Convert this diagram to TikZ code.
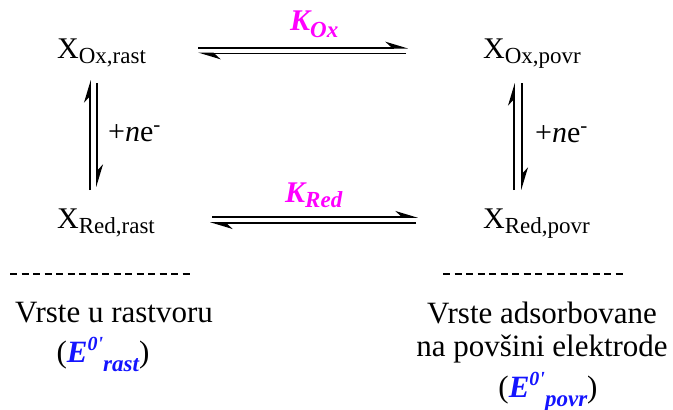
\documentclass[tikz,border=0pt]{standalone}
\usepackage{fontspec}
\setmainfont{Liberation Serif}
\usetikzlibrary{arrows.meta, calc, positioning}
\definecolor{kmag}{HTML}{FF00FF}
\definecolor{eblue}{HTML}{1414FF}
\newcommand{\lowtxt}[2][-5pt]{\raisebox{#1}{\fontsize{23}{23}\selectfont #2}}
\newcommand{\eform}[1]{\textcolor{eblue}{\bfseries\itshape E\raisebox{12pt}{\fontsize{20}{20}\selectfont 0\textquotesingle}\raisebox{-9pt}{\fontsize{23}{23}\selectfont #1}}}

\begin{document}
\begin{tikzpicture}[
    x=1pt, y=-1pt,
    species/.style={inner sep=0pt, anchor=base west, font=\fontsize{30}{34}\selectfont},
    caption/.style={inner sep=0pt, anchor=base, font=\fontsize{31}{34}\selectfont},
    klabel/.style={inner sep=0pt, anchor=base west, text=kmag, font=\fontsize{30}{34}\selectfont\bfseries\itshape},
    harp/.style={-{Stealth[harpoon, length=20pt, width=12pt]}, line width=1.6pt},
    sep/.style={line width=1.5pt, dash pattern=on 7pt off 4.5pt}
]
\useasboundingbox (0,0) rectangle (673,410);

% Species
\node[species] (oxr) at (57,58) {X\lowtxt{Ox,rast}};
\node[species] (oxp) at (483,58) {X\lowtxt{Ox,povr}};
\node[species] (redr) at (57,228) {X\lowtxt{Red,rast}};
\node[species] (redp) at (483,228) {X\lowtxt{Red,povr}};

% Equilibria
\draw[harp] ($(oxr.base west)+(141,-10.3)$) -- ($(oxp.base west)+(-75,-10.3)$);
\draw[harp] ($(oxp.base west)+(-77,-4.7)$) -- ($(oxr.base west)+(141,-4.7)$);
\draw[harp] ($(redr.base west)+(155,-11)$) -- ($(redp.base west)+(-65,-11)$);
\draw[harp] ($(redp.base west)+(-67,-5)$) -- ($(redr.base west)+(153,-5)$);
\draw[harp] ($(redr.base west)+(33,-38)$) -- ($(oxr.base west)+(33,22)$);
\draw[harp] ($(oxr.base west)+(40,25)$) -- ($(redr.base west)+(40,-41)$);
\draw[harp] ($(redp.base west)+(31,-38)$) -- ($(oxp.base west)+(31,25)$);
\draw[harp] ($(oxp.base west)+(39,25)$) -- ($(redp.base west)+(39,-38)$);

% Labels
\node[klabel] (kox) at (290,30) {K\lowtxt[-7pt]{Ox}};
\node[klabel] (kred) at (285,202) {K\lowtxt[-5pt]{Red}};
\node[species] (elr) at (108,141) {+\textit{n}e\textsuperscript{-}};
\node[species] (elp) at (535,142) {+\textit{n}e\textsuperscript{-}};

% Captions
\draw[sep] (10,274) -- (190,274);
\draw[sep] (443,274) -- (623,274);
\node[caption] (solr) at (114,322) {Vrste u rastvoru};
\node[caption] (er) at (103,362) {(\eform{rast})};
\node[caption] (solp) at (542,323) {Vrste adsorbovane};
\node[caption] (solp2) at (542,356) {na povšini elektrode};
\node[caption] (ep) at (548,397) {(\eform{povr})};
\end{tikzpicture}
\end{document}
